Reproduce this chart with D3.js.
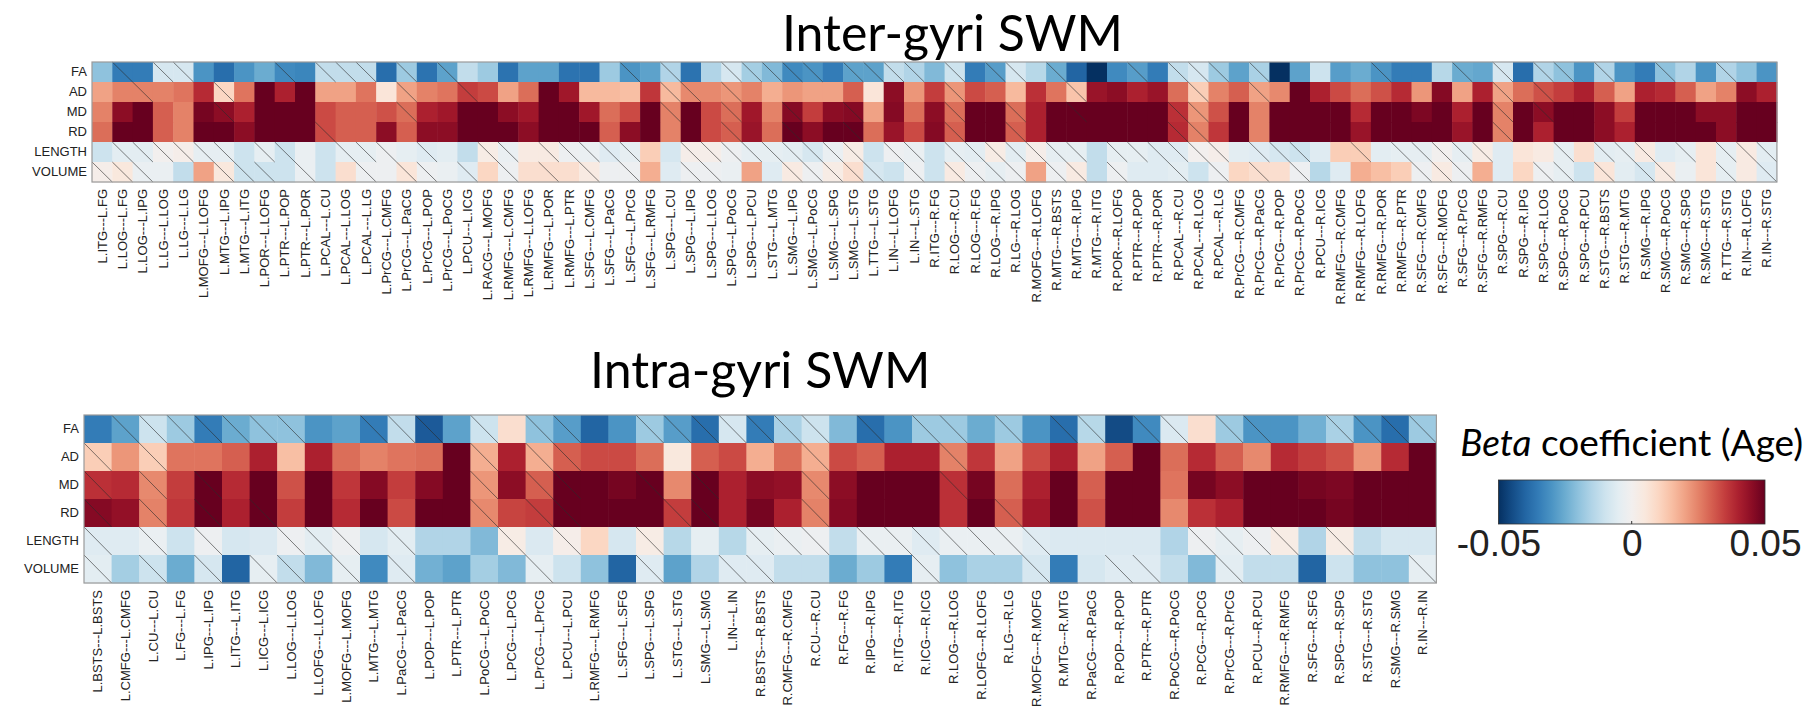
<!DOCTYPE html>
<html>
<head>
<meta charset="utf-8">
<script src="https://cdn.jsdelivr.net/npm/d3@7"></script>
<style>
  body { margin: 0; background: #fff; }
  .tick text { font-family: "Liberation Sans", Arial, sans-serif; fill: #222; }
  .ttl { font-family: Lato, "Open Sans", sans-serif; fill: #000; }
</style>
</head>
<body>
<script>
"use strict";

var rowNames = ["FA", "AD", "MD", "RD", "LENGTH", "VOLUME"];

// inter-gyri connections (83)
var interLabels = ["L.ITG---L.FG","L.LOG---L.FG","L.LOG---L.IPG","L.LG---L.LOG","L.LG---L.LG","L.MOFG---L.LOFG","L.MTG---L.IPG","L.MTG---L.ITG","L.POR---L.LOFG","L.PTR---L.POP","L.PTR---L.POR","L.PCAL---L.CU","L.PCAL---L.LOG","L.PCAL---L.LG","L.PrCG---L.CMFG","L.PrCG---L.PaCG","L.PrCG---L.POP","L.PrCG---L.PoCG","L.PCU---L.ICG","L.RACG---L.MOFG","L.RMFG---L.CMFG","L.RMFG---L.LOFG","L.RMFG---L.POR","L.RMFG---L.PTR","L.SFG---L.CMFG","L.SFG---L.PaCG","L.SFG---L.PrCG","L.SFG---L.RMFG","L.SPG---L.CU","L.SPG---L.IPG","L.SPG---L.LOG","L.SPG---L.PoCG","L.SPG---L.PCU","L.STG---L.MTG","L.SMG---L.IPG","L.SMG---L.PoCG","L.SMG---L.SPG","L.SMG---L.STG","L.TTG---L.STG","L.IN---L.LOFG","L.IN---L.STG",
  "R.ITG---R.FG","R.LOG---R.CU","R.LOG---R.FG","R.LOG---R.IPG","R.LG---R.LOG","R.MOFG---R.LOFG","R.MTG---R.BSTS","R.MTG---R.IPG","R.MTG---R.ITG","R.POR---R.LOFG","R.PTR---R.POP","R.PTR---R.POR","R.PCAL---R.CU","R.PCAL---R.LOG","R.PCAL---R.LG","R.PrCG---R.CMFG","R.PrCG---R.PaCG","R.PrCG---R.POP","R.PrCG---R.PoCG","R.PCU---R.ICG","R.RMFG---R.CMFG","R.RMFG---R.LOFG","R.RMFG---R.POR","R.RMFG---R.PTR","R.SFG---R.CMFG","R.SFG---R.MOFG","R.SFG---R.PrCG","R.SFG---R.RMFG","R.SPG---R.CU","R.SPG---R.IPG","R.SPG---R.LOG","R.SPG---R.PoCG","R.SPG---R.PCU","R.STG---R.BSTS","R.STG---R.MTG","R.SMG---R.IPG","R.SMG---R.PoCG","R.SMG---R.SPG","R.SMG---R.STG","R.TTG---R.STG","R.IN---R.LOFG","R.IN---R.STG"];

var interFA = [-0.020,-0.035,-0.035,-0.008,-0.008,-0.030,-0.038,-0.030,-0.025,-0.032,-0.033,-0.012,-0.012,-0.012,-0.038,-0.018,-0.037,-0.027,-0.012,
  -0.018,-0.037,-0.027,-0.027,-0.037,-0.037,-0.018,-0.030,-0.027,-0.015,-0.037,-0.015,-0.008,-0.017,-0.022,-0.032,-0.030,
  -0.035,-0.027,-0.027,-0.012,-0.015,-0.022,-0.010,-0.035,-0.028,-0.008,-0.014,-0.025,-0.040,-0.050,-0.032,-0.028,-0.035,-0.012,
  -0.008,-0.018,-0.027,-0.016,-0.050,-0.027,-0.010,-0.028,-0.025,-0.030,-0.035,-0.035,-0.014,-0.025,-0.026,-0.008,-0.038,-0.015,
  -0.020,-0.030,-0.015,-0.030,-0.035,-0.020,-0.015,-0.030,-0.015,-0.020,-0.030];
var interAD = [0.020,0.025,0.025,0.025,0.027,0.038,0.010,0.027,0.050,0.040,0.050,0.020,0.020,0.027,0.006,0.020,0.025,0.027,0.035,
  0.033,0.020,0.028,0.050,0.042,0.016,0.016,0.015,0.036,0.016,0.024,0.024,0.022,0.025,0.018,0.022,0.020,
  0.020,0.030,0.006,0.045,0.022,0.035,0.022,0.033,0.030,0.016,0.037,0.027,0.014,0.043,0.045,0.040,0.043,0.028,
  0.012,0.025,0.030,0.020,0.024,0.050,0.040,0.033,0.028,0.032,0.038,0.022,0.046,0.020,0.040,0.020,0.028,0.032,
  0.035,0.040,0.030,0.020,0.040,0.038,0.030,0.020,0.025,0.045,0.040];
var interMD = [0.025,0.045,0.050,0.030,0.025,0.048,0.045,0.040,0.050,0.050,0.050,0.033,0.030,0.030,0.032,0.028,0.040,0.042,0.050,
  0.050,0.045,0.042,0.050,0.050,0.042,0.028,0.033,0.050,0.025,0.050,0.033,0.028,0.042,0.025,0.046,0.035,
  0.045,0.046,0.020,0.046,0.028,0.045,0.028,0.050,0.050,0.028,0.040,0.050,0.050,0.050,0.050,0.050,0.050,0.037,
  0.022,0.032,0.050,0.025,0.050,0.050,0.050,0.050,0.038,0.050,0.050,0.047,0.050,0.040,0.050,0.025,0.050,0.045,
  0.050,0.050,0.045,0.035,0.050,0.050,0.050,0.045,0.045,0.050,0.050];
var interRD = [0.028,0.050,0.050,0.030,0.025,0.050,0.050,0.045,0.050,0.050,0.050,0.033,0.030,0.030,0.045,0.030,0.045,0.045,0.050,
  0.050,0.050,0.045,0.050,0.050,0.050,0.030,0.045,0.050,0.025,0.050,0.033,0.030,0.043,0.028,0.050,0.045,
  0.050,0.050,0.028,0.043,0.033,0.046,0.030,0.050,0.050,0.030,0.040,0.050,0.050,0.050,0.050,0.050,0.050,0.038,
  0.025,0.036,0.050,0.025,0.050,0.050,0.050,0.050,0.043,0.050,0.050,0.050,0.050,0.043,0.050,0.025,0.050,0.040,
  0.050,0.050,0.045,0.040,0.050,0.050,0.050,0.050,0.045,0.050,0.050];
var interLEN = [-0.010,-0.005,-0.005,0.000,0.002,-0.004,-0.004,-0.010,-0.004,-0.010,-0.003,-0.010,-0.004,-0.004,-0.002,-0.004,-0.006,-0.005,-0.012,
  0.003,-0.003,0.004,0.004,-0.002,-0.003,-0.006,-0.004,0.012,-0.008,0.002,0.002,-0.002,-0.004,-0.004,-0.005,-0.008,
  -0.003,0.003,-0.010,-0.002,-0.003,-0.010,-0.004,-0.005,0.003,-0.005,0.002,-0.004,-0.004,-0.012,-0.004,-0.004,-0.006,-0.006,
  0.000,0.002,-0.005,-0.006,-0.008,-0.010,-0.006,0.012,0.012,-0.005,-0.004,-0.004,0.000,-0.004,0.003,-0.006,0.006,0.004,
  -0.004,0.008,-0.005,-0.004,0.004,-0.006,-0.004,0.006,-0.004,0.004,-0.005];
var interVOL = [0.002,0.005,-0.003,-0.003,-0.012,0.020,0.005,-0.010,-0.010,-0.010,-0.003,-0.010,0.008,-0.002,-0.002,0.006,-0.002,-0.003,-0.006,
  0.010,-0.002,0.008,0.008,0.008,0.004,-0.002,-0.002,0.018,-0.006,-0.002,-0.002,-0.003,0.020,-0.006,0.004,-0.002,
  0.003,0.008,-0.008,-0.010,-0.002,-0.010,0.004,-0.002,-0.004,-0.002,0.020,-0.002,0.004,-0.012,-0.002,-0.006,-0.006,-0.005,
  -0.010,-0.002,0.010,0.008,0.008,-0.002,-0.014,-0.006,0.018,0.015,0.012,-0.002,0.004,-0.002,0.018,-0.006,0.010,-0.002,
  -0.004,-0.010,0.006,-0.005,-0.008,0.004,-0.003,0.006,-0.004,0.004,-0.006];

// non-significant cells (column indices), drawn with a diagonal line
var interNsFA = [1,3,4,9,11,12,13,15,17,26,28,31,32,33,34,35,37,38,39,40,42,44,45,47,51,53,54,55,57,63,67,69,71,72,74,77,80];
var interNsAD = [2,6,15,18,28,29,31,42,48,54,57,69,71];
var interNsMD = [6,15,28,31,34,37,42,45,48,53,54,69,71];
var interNsRD = [11,31,34,37,42,45,53,54,69];
var interNsLEN = [1,2,3,4,5,6,8,9,12,13,14,16,19,20,22,23,24,25,26,29,30,31,32,33,34,35,36,37,39,40,42,43,44,45,46,47,48,50,51,52,53,54,55,57,58,59,62,64,65,66,67,68,72,74,75,76,78,80,81,82];
var interNsVOL = [0,1,2,6,7,8,10,13,15,16,18,20,22,24,26,29,30,34,35,36,37,38,40,42,43,44,45,47,48,50,53,55,57,59,65,66,67,71,72,74,76,77,80,82];

// intra-gyri connections (49)
var intraLabels = ["L.BSTS---L.BSTS","L.CMFG---L.CMFG","L.CU---L.CU","L.FG---L.FG","L.IPG---L.IPG","L.ITG---L.ITG","L.ICG---L.ICG","L.LOG---L.LOG","L.LOFG---L.LOFG","L.MOFG---L.MOFG","L.MTG---L.MTG","L.PaCG---L.PaCG","L.POP---L.POP","L.PTR---L.PTR","L.PoCG---L.PoCG","L.PCG---L.PCG","L.PrCG---L.PrCG","L.PCU---L.PCU","L.RMFG---L.RMFG","L.SFG---L.SFG","L.SPG---L.SPG","L.STG---L.STG","L.SMG---L.SMG","L.IN---L.IN",
  "R.BSTS---R.BSTS","R.CMFG---R.CMFG","R.CU---R.CU","R.FG---R.FG","R.IPG---R.IPG","R.ITG---R.ITG","R.ICG---R.ICG","R.LOG---R.LOG","R.LOFG---R.LOFG","R.LG---R.LG","R.MOFG---R.MOFG","R.MTG---R.MTG","R.PaCG---R.PaCG","R.POP---R.POP","R.PTR---R.PTR","R.PoCG---R.PoCG","R.PCG---R.PCG","R.PrCG---R.PrCG","R.PCU---R.PCU","R.RMFG---R.RMFG","R.SFG---R.SFG","R.SPG---R.SPG","R.STG---R.STG","R.SMG---R.SMG","R.IN---R.IN"];

var intraFA = [-0.035,-0.027,-0.010,-0.018,-0.035,-0.025,-0.020,-0.020,-0.030,-0.027,-0.035,-0.012,-0.042,-0.027,-0.010,0.008,-0.020,-0.028,-0.040,-0.030,-0.018,-0.028,-0.038,-0.008,
  -0.035,-0.016,-0.010,-0.022,-0.038,-0.030,-0.018,-0.018,-0.025,-0.018,-0.030,-0.038,-0.014,-0.045,-0.032,-0.007,0.008,-0.018,-0.030,-0.030,-0.024,-0.016,-0.030,-0.038,-0.018];
var intraAD = [0.012,0.022,0.012,0.027,0.027,0.030,0.040,0.015,0.040,0.028,0.025,0.027,0.028,0.050,0.018,0.040,0.018,0.030,0.033,0.033,0.028,0.005,0.030,0.033,
  0.018,0.028,0.018,0.033,0.030,0.040,0.040,0.025,0.036,0.020,0.033,0.040,0.020,0.030,0.050,0.028,0.038,0.030,0.024,0.038,0.035,0.032,0.022,0.038,0.050];
var intraMD = [0.037,0.038,0.024,0.035,0.050,0.038,0.050,0.032,0.050,0.036,0.046,0.035,0.046,0.050,0.022,0.045,0.030,0.050,0.050,0.048,0.050,0.024,0.050,0.040,
  0.045,0.044,0.024,0.045,0.050,0.050,0.050,0.037,0.048,0.028,0.040,0.050,0.030,0.050,0.050,0.027,0.048,0.045,0.050,0.050,0.048,0.047,0.050,0.050,0.050];
var intraRD = [0.046,0.044,0.025,0.036,0.050,0.040,0.050,0.035,0.050,0.038,0.050,0.033,0.050,0.050,0.024,0.034,0.035,0.050,0.050,0.050,0.050,0.035,0.050,0.040,
  0.048,0.040,0.025,0.046,0.050,0.050,0.050,0.037,0.050,0.030,0.042,0.050,0.032,0.050,0.050,0.024,0.037,0.040,0.050,0.050,0.050,0.048,0.050,0.050,0.050];
var intraLEN = [-0.006,-0.006,-0.003,-0.010,-0.002,-0.008,-0.007,-0.002,-0.005,-0.002,-0.008,-0.005,-0.015,-0.015,-0.022,0.003,-0.007,0.002,0.010,-0.008,0.003,-0.014,-0.004,-0.014,
  -0.004,-0.003,-0.002,-0.012,-0.003,-0.003,-0.006,-0.003,-0.003,-0.003,-0.006,-0.007,-0.007,-0.007,-0.007,-0.015,-0.002,-0.004,-0.002,0.003,-0.015,0.003,-0.012,-0.008,-0.008];
var intraVOL = [-0.005,-0.017,-0.010,-0.025,-0.008,-0.040,-0.004,-0.012,-0.022,-0.004,-0.032,-0.006,-0.024,-0.027,-0.017,-0.022,-0.004,-0.010,-0.020,-0.040,-0.006,-0.027,-0.015,-0.006,
  -0.006,-0.012,-0.012,-0.025,-0.018,-0.035,-0.004,-0.020,-0.016,-0.016,-0.008,-0.035,-0.008,-0.006,-0.006,-0.012,-0.022,-0.005,-0.012,-0.012,-0.040,-0.010,-0.020,-0.020,-0.004];

var intraNsFA = [1,2,3,4,5,6,7,10,11,12,14,16,17,20,21,22,23,24,25,26,28,30,31,33,35,36,38,39,41,42,45,46,47,48];
var intraNsAD = [0,2,14,16,17,26,31];
var intraNsMD = [0,2,4,14,16,17,20,22,26,31];
var intraNsRD = [0,2,4,6,14,16,17,21,22,26,33];
var intraNsLEN = [0,2,4,7,8,9,11,15,17,20,24,25,26,28,29,30,31,32,33,34,40,41,42,43,45];
var intraNsVOL = [0,2,4,6,7,9,11,16,20,23,24,30,34,37,38,41,48];

var colorTicks = [-0.05, 0, 0.05];

var W = 1805, H = 721;

var color = d3.scaleSequential(function(t) { return d3.interpolateRdBu(1 - t); })
  .domain([-0.05, 0.05]).clamp(true);

var svg = d3.select("body").append("svg")
  .attr("width", W).attr("height", H)
  .style("font-family", "'Liberation Sans', Arial, sans-serif");

var drawHeatmap = function(cfg) {
  var cells = [];
  cfg.rows.forEach(function(vals, r) {
    var ns = cfg.ns[r];
    vals.forEach(function(v, c) {
      cells.push({row: rowNames[r], col: cfg.labels[c], v: v, ns: ns.indexOf(c) >= 0});
    });
  });

  var x = d3.scaleBand().domain(cfg.labels)
    .range([cfg.left, cfg.left + cfg.cellW * cfg.labels.length]);
  var y = d3.scaleBand().domain(rowNames)
    .range([cfg.top, cfg.top + cfg.cellH * rowNames.length]);

  var g = svg.append("g");

  g.selectAll("rect.cell").data(cells).enter().append("rect")
    .attr("class", "cell")
    .attr("x", function(d) { return x(d.col); })
    .attr("y", function(d) { return y(d.row); })
    .attr("width", x.bandwidth() + 0.5)
    .attr("height", y.bandwidth() + 0.5)
    .attr("fill", function(d) { return color(d.v); });

  g.selectAll("line.ns").data(cells.filter(function(d) { return d.ns; })).enter().append("line")
    .attr("class", "ns")
    .attr("x1", function(d) { return x(d.col); })
    .attr("y1", function(d) { return y(d.row); })
    .attr("x2", function(d) { return x(d.col) + x.bandwidth(); })
    .attr("y2", function(d) { return y(d.row) + y.bandwidth(); })
    .attr("stroke", "#2b2b2b")
    .attr("stroke-opacity", 0.7)
    .attr("stroke-width", 0.85);

  g.append("rect")
    .attr("x", x.range()[0]).attr("y", y.range()[0])
    .attr("width", x.range()[1] - x.range()[0])
    .attr("height", y.range()[1] - y.range()[0])
    .attr("fill", "none").attr("stroke", "#9a9a9a").attr("stroke-width", 1.2);

  var xAxis = g.append("g")
    .attr("transform", "translate(0," + (y.range()[1] + 3) + ")")
    .call(d3.axisBottom(x).tickSize(0).tickPadding(0));
  xAxis.select(".domain").remove();
  xAxis.selectAll("text")
    .attr("transform", "rotate(-90)")
    .attr("text-anchor", "end")
    .attr("dx", "-4")
    .attr("dy", "0.35em")
    .attr("y", 0)
    .style("font-size", cfg.labelSize + "px");

  var yAxis = g.append("g")
    .attr("transform", "translate(" + (cfg.left - 5) + ",0)")
    .call(d3.axisLeft(y).tickSize(0).tickPadding(0));
  yAxis.select(".domain").remove();
  yAxis.selectAll("text").style("font-size", cfg.rowSize + "px");

  svg.append("text").attr("class", "ttl")
    .attr("x", (x.range()[0] + x.range()[1]) / 2 + cfg.titleDx)
    .attr("y", cfg.titleY)
    .attr("text-anchor", "middle")
    .style("font-size", "50px")
    .text(cfg.title);

  return x;
};

drawHeatmap({
  title: "Inter-gyri SWM", titleY: 51, titleDx: 18,
  labels: interLabels,
  rows: [interFA, interAD, interMD, interRD, interLEN, interVOL],
  ns: [interNsFA, interNsAD, interNsMD, interNsRD, interNsLEN, interNsVOL],
  left: 92, top: 62, cellW: 20.3, cellH: 20, labelSize: 13, rowSize: 13
});

var xIntra = drawHeatmap({
  title: "Intra-gyri SWM", titleY: 388, titleDx: 0,
  labels: intraLabels,
  rows: [intraFA, intraAD, intraMD, intraRD, intraLEN, intraVOL],
  ns: [intraNsFA, intraNsAD, intraNsMD, intraNsRD, intraNsLEN, intraNsVOL],
  left: 84, top: 415, cellW: 27.6, cellH: 28, labelSize: 13, rowSize: 13
});

// colour bar
var cbLeft = xIntra.range()[1] + 62;
var cbX = d3.scaleLinear().domain([-0.05, 0.05]).range([cbLeft, 1765]);
var cbTop = 480, cbH = 44;

var grad = svg.append("defs").append("linearGradient").attr("id", "cbgrad");
grad.selectAll("stop").data(d3.range(0, 1.0001, 0.05)).enter().append("stop")
  .attr("offset", function(t) { return (t * 100) + "%"; })
  .attr("stop-color", function(t) { return color(-0.05 + t * 0.1); });

svg.append("rect")
  .attr("x", cbX(-0.05)).attr("y", cbTop)
  .attr("width", cbX(0.05) - cbX(-0.05)).attr("height", cbH)
  .attr("fill", "url(#cbgrad)")
  .attr("stroke", "#333").attr("stroke-width", 0.8);

svg.append("line")
  .attr("x1", cbX(0)).attr("x2", cbX(0))
  .attr("y1", cbTop + cbH).attr("y2", cbTop + cbH - 3)
  .attr("stroke", "#333");

var cbAxis = svg.append("g")
  .attr("transform", "translate(0," + (cbTop + cbH) + ")")
  .call(d3.axisBottom(cbX).tickValues(colorTicks).tickSize(0).tickPadding(6)
    .tickFormat(function(d) { return d === 0 ? "0" : d3.format(".2f")(d).replace("\u2212", "-"); }));
cbAxis.select(".domain").remove();
cbAxis.selectAll("text")
  .attr("class", "ttl")
  .style("font-size", "37px")
  .attr("dy", "0.71em");

var cbTitle = svg.append("text").attr("class", "ttl")
  .attr("x", (cbX(-0.05) + cbX(0.05)) / 2).attr("y", 456)
  .attr("text-anchor", "middle")
  .style("font-size", "37px");
cbTitle.append("tspan").style("font-style", "italic").text("Beta");
cbTitle.append("tspan").text(" coefficient (Age)");
</script>
</body>
</html>
